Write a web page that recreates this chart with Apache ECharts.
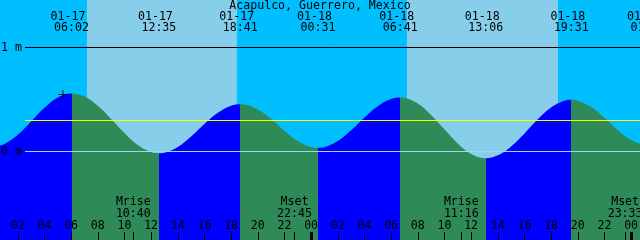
<!DOCTYPE html>
<html><head><meta charset="utf-8">
<script src="https://cdn.jsdelivr.net/npm/echarts@6/dist/echarts.min.js"></script>
<style>html,body{margin:0;padding:0;background:#00BFFF}#c{width:640px;height:240px}</style>
</head><body><div id="c"></div>
<script>
// ---- data (hours counted from 01-17 00:00) ----
const stationName = 'Acapulco, Guerrero, Mexico';
const sampleHours = [0, 0.2, 1, 2, 3, 4, 5, 6.033, 7, 8, 9, 10, 11, 12, 12.583, 13, 14, 15, 16, 17, 18, 18.683,
  19, 20, 21, 22, 23, 24, 24.517, 25, 26, 27, 28, 29, 30, 30.683, 31, 32, 33, 34, 35, 36, 37.1,
  38, 39, 40, 41, 42, 43, 43.517, 44, 45, 46, 47, 48, 49, 49.267];
const tideLevels = [0.051, 0.050, 0.073, 0.160, 0.288, 0.420, 0.520, 0.558, 0.528, 0.439, 0.313, 0.178, 0.063, -0.005, -0.016, -0.011, 0.044, 0.144, 0.264, 0.372, 0.441, 0.455,
  0.452, 0.404, 0.312, 0.200, 0.101, 0.043, 0.035, 0.042, 0.101, 0.204, 0.327, 0.436, 0.505, 0.520, 0.517, 0.461, 0.351, 0.213, 0.078, -0.023, -0.064,
  -0.037, 0.049, 0.174, 0.310, 0.423, 0.488, 0.497, 0.489, 0.429, 0.325, 0.207, 0.110, 0.063, 0.060];
const tideEventHours = [6.033, 12.583, 18.683, 24.517, 30.683, 37.1, 43.517, 49.267];
const tideEventTypes = ['H', 'L', 'H', 'L', 'H', 'L', 'H', 'L'];
const tideEventDates = ['01-17', '01-17', '01-17', '01-18', '01-18', '01-18', '01-18', '01-19'];
const tideEventClock = ['06:02', '12:35', '18:41', '00:31', '06:41', '13:06', '19:31', '01:16'];
const moonEventHours = [10.667, 22.75, 35.267, 47.55];
const moonEventNames = ['Mrise', 'Mset', 'Mrise', 'Mset'];
const moonEventClock = ['10:40', '22:45', '11:16', '23:33'];
const hourTicks = [2, 4, 6, 8, 10, 12, 14, 16, 18, 20, 22, 24, 26, 28, 30, 32, 34, 36, 38, 40, 42, 44, 46, 48];
const hourTickLabels = ['02', '04', '06', '08', '10', '12', '14', '16', '18', '20', '22', '00',
  '02', '04', '06', '08', '10', '12', '14', '16', '18', '20', '22', '00'];
const midnightTicks = [24, 48];
const sunriseHours = [7.183, 31.183];
const sunsetHours = [18.433, 42.517];
const datumLevels = [0, 1];
const datumLabels = ['0 m', '1 m'];
const meanLevel = 0.298;
const nowHour = 5.39;
const nowLevel = 0.548;

// ---- view ----
const viewStart = 0.6667, viewEnd = 48.6667;
const levelMin = -0.851, levelMax = 1.4567;
const refLineStart = 2.542;
const FONT = { fontFamily: '"DejaVu Sans Mono", monospace', fontSize: 11.6, color: '#000' };
const RISE = '#0000FF', FALL = '#2E8B57';

function idx(arr, v) { let b = 0, d = Infinity; arr.forEach((a, i) => { const e = Math.abs(a - v); if (e < d) { d = e; b = i; } }); return b; }

const pieces = [];
let prev = -1000;
tideEventHours.forEach((t, i) => {
  pieces.push({ gte: prev, lt: t, color: tideEventTypes[i] === 'H' ? RISE : FALL });
  prev = t;
});
pieces.push({ gte: prev, lt: 1000, color: tideEventTypes[tideEventTypes.length - 1] === 'L' ? RISE : FALL });

const fullGrid = { left: 0, right: 0, top: 0, bottom: 0, outerBoundsMode: 'none', containLabel: false };
const hiddenY = (g) => ({ gridIndex: g, type: 'value', min: 0, max: 1, show: false });
const noLine = { show: false, onZero: false };

const chart = echarts.init(document.getElementById('c'));
chart.setOption({
  animation: false,
  backgroundColor: '#00BFFF',
  title: { text: stationName, left: 'center', top: 0, padding: 0, textStyle: Object.assign({ fontWeight: 'normal' }, FONT) },
  grid: [
    fullGrid,
    { left: 0, right: -30, top: 0, bottom: 0, outerBoundsMode: 'none', containLabel: false },
    fullGrid,
    fullGrid
  ],
  visualMap: { type: 'piecewise', show: false, dimension: 0, seriesIndex: 1, pieces: pieces },
  xAxis: [
    { gridIndex: 0, type: 'value', min: viewStart, max: viewEnd, position: 'bottom', z: 10,
      axisLine: noLine, splitLine: { show: false },
      axisTick: { show: true, inside: true, length: 8, customValues: hourTicks, lineStyle: { color: '#000', width: 1 } },
      axisLabel: Object.assign({ inside: true, margin: 8, customValues: hourTicks,
        formatter: v => hourTickLabels[idx(hourTicks, v)] }, FONT) },
    { gridIndex: 1, type: 'value', min: viewStart, max: viewStart + (viewEnd - viewStart) * 670 / 640, position: 'top', z: 10,
      axisLine: noLine, splitLine: { show: false }, axisTick: { show: false },
      axisLabel: Object.assign({ inside: true, margin: 11, lineHeight: 11, align: 'center', customValues: tideEventHours,
        formatter: v => { const i = idx(tideEventHours, v); return tideEventDates[i] + '\u00a0\n' + tideEventClock[i]; } }, FONT) },
    { gridIndex: 2, type: 'value', min: viewStart, max: viewEnd, position: 'bottom', z: 10,
      axisLine: noLine, splitLine: { show: false },
      axisTick: { show: true, inside: true, length: 8, customValues: moonEventHours, lineStyle: { color: '#000', width: 1 } },
      axisLabel: Object.assign({ inside: true, margin: 20, lineHeight: 12, align: 'center', customValues: moonEventHours,
        formatter: v => { const i = idx(moonEventHours, v); return moonEventNames[i] + '\n' + moonEventClock[i]; } }, FONT) },
    { gridIndex: 3, type: 'value', min: viewStart, max: viewEnd, position: 'bottom', z: 10,
      axisLine: noLine, splitLine: { show: false }, axisLabel: { show: false },
      axisTick: { show: true, inside: true, length: 8, customValues: midnightTicks, lineStyle: { color: '#000', width: 3 } } }
  ],
  yAxis: [
    { gridIndex: 0, type: 'value', min: levelMin, max: levelMax, z: 10,
      axisLine: noLine, splitLine: { show: false }, axisTick: { show: false },
      axisLabel: Object.assign({ inside: true, margin: 1, customValues: datumLevels,
        formatter: v => datumLabels[idx(datumLevels, v)] }, FONT) },
    hiddenY(1), hiddenY(2), hiddenY(3)
  ],
  series: [
    { type: 'line', xAxisIndex: 0, yAxisIndex: 0, data: [], z: 1, silent: true,
      markArea: { silent: true, itemStyle: { color: '#87CEEB' },
        data: sunriseHours.map((s, i) => [{ xAxis: s }, { xAxis: sunsetHours[i] }]) } },
    { type: 'line', xAxisIndex: 0, yAxisIndex: 0, z: 2, silent: true, smooth: 0.4, symbol: 'none',
      data: sampleHours.map((t, i) => [t, tideLevels[i]]),
      lineStyle: { width: 0 }, areaStyle: { origin: 'start', opacity: 1 } },
    { type: 'line', xAxisIndex: 0, yAxisIndex: 0, data: [], z: 3, silent: true,
      markLine: { silent: true, symbol: 'none', label: { show: false },
        data: [
          [{ coord: [refLineStart, datumLevels[1]], lineStyle: { color: '#000', width: 1, type: 'solid' } }, { coord: [viewEnd, datumLevels[1]] }],
          [{ coord: [refLineStart, datumLevels[0]], lineStyle: { color: '#9FD6F0', width: 1, type: 'solid' } }, { coord: [viewEnd, datumLevels[0]] }],
          [{ coord: [refLineStart, meanLevel], lineStyle: { color: '#FFFF00', width: 1, type: 'solid' } }, { coord: [viewEnd, meanLevel] }]
        ] } },
    { type: 'scatter', xAxisIndex: 0, yAxisIndex: 0, z: 4, silent: true, symbol: 'rect', itemStyle: { color: '#000' },
      data: [{ value: [nowHour, nowLevel], symbolSize: [9, 1] }, { value: [nowHour, nowLevel], symbolSize: [1, 9] }] }
  ]
});
</script></body></html>
